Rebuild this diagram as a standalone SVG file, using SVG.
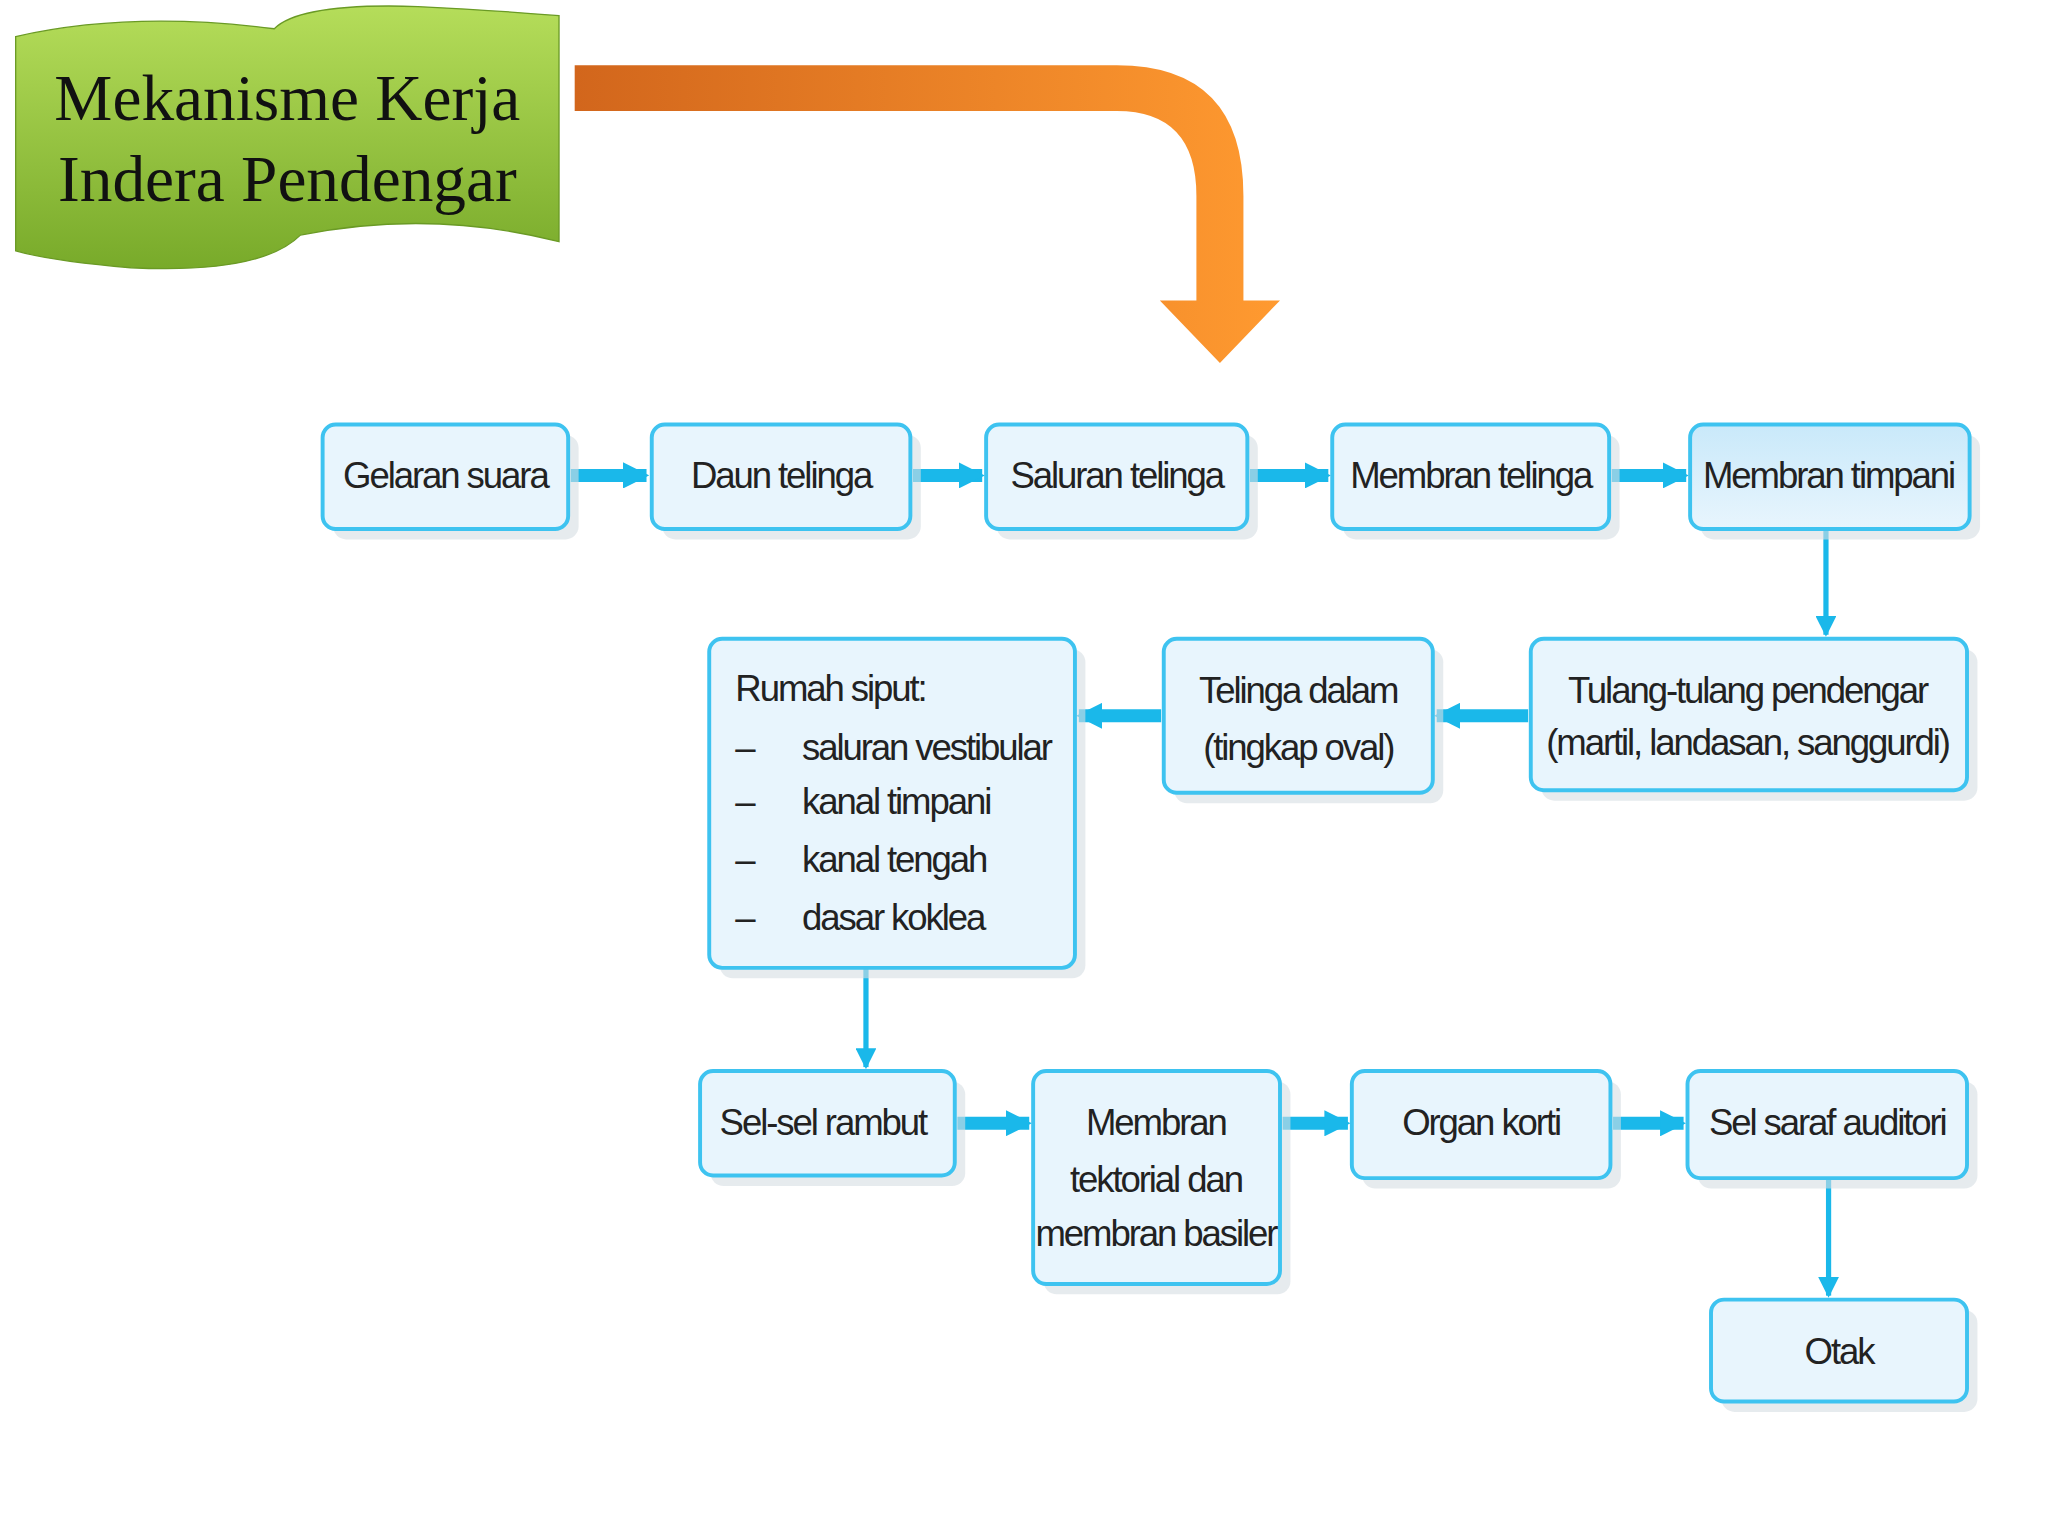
<svg xmlns="http://www.w3.org/2000/svg" width="2048" height="1536" viewBox="0 0 2048 1536">
<defs>
<style>
.b{fill:#e8f5fd;stroke:#3ec3f0;stroke-width:3}
.s{fill:#d6dde3;opacity:0.6}
.t{font-family:"Liberation Sans",Arial,sans-serif;font-size:28px;letter-spacing:-1.6px;fill:#222;text-anchor:middle}
.tl{font-family:"Liberation Sans",Arial,sans-serif;font-size:28px;letter-spacing:-1.6px;fill:#222}
.c{stroke:#1ab8ea;fill:none}
</style>
<linearGradient id="g" x1="0" y1="0" x2="0" y2="1"><stop offset="0" stop-color="#b5dd5a"/><stop offset="1" stop-color="#78aa2a"/></linearGradient>
<linearGradient id="o" x1="0" y1="0" x2="1" y2="0"><stop offset="0" stop-color="#d2661c"/><stop offset="1" stop-color="#ff9a30"/></linearGradient>
<linearGradient id="mt" x1="0" y1="0" x2="0" y2="1"><stop offset="0" stop-color="#c9e9fa"/><stop offset="1" stop-color="#e8f5fd"/></linearGradient>
<marker id="a" viewBox="0 0 10 10" refX="9" refY="5" markerWidth="2" markerHeight="2" orient="auto"><path d="M0,0L10,5L0,10z" fill="#1ab8ea"/></marker>
<marker id="a2" viewBox="0 0 10 10" refX="9" refY="5" markerWidth="4" markerHeight="4" orient="auto"><path d="M0,0L10,5L0,10z" fill="#1ab8ea"/></marker>
</defs>
<g transform="scale(1.30612)">
<g id="banner">
<path d="M12,28 Q100,8 210,22 Q230,2 320,5 Q380,8 428,12 L428,185 Q330,160 230,180 Q200,210 100,205 Q40,200 12,192 Z" fill="url(#g)" stroke="#6a9a25" stroke-width="1"/>
<text x="220" y="92" font-family="Liberation Serif,serif" font-size="50" text-anchor="middle" fill="#111">Mekanisme Kerja</text>
<text x="220" y="154" font-family="Liberation Serif,serif" font-size="50" text-anchor="middle" fill="#111">Indera Pendengar</text>
</g>
<g id="bigarrow">
<path d="M440,50 L855,50 Q952,50 952,150 L952,230 L980,230 L934,278 L888,230 L916,230 L916,150 Q916,85 855,85 L440,85 Z" fill="url(#o)"/>
</g>
<g id="connectors">
<g class="c" stroke-width="10" marker-end="url(#a)">
<line x1="437" y1="364" x2="495" y2="364"/>
<line x1="699" y1="364" x2="752" y2="364"/>
<line x1="957" y1="364" x2="1017" y2="364"/>
<line x1="1234" y1="364" x2="1291" y2="364"/>
<line x1="1170" y1="548" x2="1100" y2="548"/>
<line x1="889" y1="548" x2="826" y2="548"/>
<line x1="733" y1="860" x2="788" y2="860"/>
<line x1="982" y1="860" x2="1032" y2="860"/>
<line x1="1235" y1="860" x2="1289" y2="860"/>
</g>
<g class="c" stroke-width="4" marker-end="url(#a2)">
<line x1="1398" y1="405" x2="1398" y2="486"/>
<line x1="663" y1="741" x2="663" y2="817"/>
<line x1="1400" y1="902" x2="1400" y2="992"/>
</g>
</g>
<g id="n1"><rect class="s" x="255" y="333" width="188" height="80" rx="10"/><rect class="b" x="247" y="325" width="188" height="80" rx="10"/><text class="t" x="341" y="374">Gelaran suara</text></g>
<g id="n2"><rect class="s" x="507" y="333" width="198" height="80" rx="10"/><rect class="b" x="499" y="325" width="198" height="80" rx="10"/><text class="t" x="598" y="374">Daun telinga</text></g>
<g id="n3"><rect class="s" x="763" y="333" width="200" height="80" rx="10"/><rect class="b" x="755" y="325" width="200" height="80" rx="10"/><text class="t" x="855" y="374">Saluran telinga</text></g>
<g id="n4"><rect class="s" x="1028" y="333" width="212" height="80" rx="10"/><rect class="b" x="1020" y="325" width="212" height="80" rx="10"/><text class="t" x="1126" y="374">Membran telinga</text></g>
<g id="n5"><rect class="s" x="1302" y="333" width="214" height="80" rx="10"/><rect class="b" x="1294" y="325" width="214" height="80" rx="10" style="fill:url(#mt)"/><text class="t" x="1400" y="374">Membran timpani</text></g>
<g id="n6"><rect class="s" x="1180" y="497" width="334" height="116" rx="10"/><rect class="b" x="1172" y="489" width="334" height="116" rx="10"/><text class="t" x="1338" y="538">Tulang-tulang pendengar</text><text class="t" x="1338" y="578">(martil, landasan, sanggurdi)</text></g>
<g id="n7"><rect class="s" x="899" y="497" width="206" height="118" rx="10"/><rect class="b" x="891" y="489" width="206" height="118" rx="10"/><text class="t" x="994" y="538">Telinga dalam</text><text class="t" x="994" y="582">(tingkap oval)</text></g>
<g id="n8"><rect class="s" x="551" y="497" width="280" height="252" rx="10"/><rect class="b" x="543" y="489" width="280" height="252" rx="10"/>
<text class="tl" x="563" y="537">Rumah siput:</text>
<text class="tl" x="563" y="582">–</text><text class="tl" x="614" y="582">saluran vestibular</text>
<text class="tl" x="563" y="623">–</text><text class="tl" x="614" y="623">kanal timpani</text>
<text class="tl" x="563" y="668">–</text><text class="tl" x="614" y="668">kanal tengah</text>
<text class="tl" x="563" y="712">–</text><text class="tl" x="614" y="712">dasar koklea</text></g>
<g id="n9"><rect class="s" x="544" y="828" width="195" height="80" rx="10"/><rect class="b" x="536" y="820" width="195" height="80" rx="10"/><text class="t" x="630" y="869">Sel-sel rambut</text></g>
<g id="n10"><rect class="s" x="799" y="828" width="189" height="163" rx="10"/><rect class="b" x="791" y="820" width="189" height="163" rx="10"/><text class="t" x="885" y="869">Membran</text><text class="t" x="885" y="913">tektorial dan</text><text class="t" x="885" y="954">membran basiler</text></g>
<g id="n11"><rect class="s" x="1043" y="828" width="198" height="82" rx="10"/><rect class="b" x="1035" y="820" width="198" height="82" rx="10"/><text class="t" x="1134" y="869">Organ korti</text></g>
<g id="n12"><rect class="s" x="1300" y="828" width="214" height="82" rx="10"/><rect class="b" x="1292" y="820" width="214" height="82" rx="10"/><text class="t" x="1399" y="869">Sel saraf auditori</text></g>
<g id="n13"><rect class="s" x="1318" y="1003" width="196" height="78" rx="10"/><rect class="b" x="1310" y="995" width="196" height="78" rx="10"/><text class="t" x="1408" y="1044">Otak</text></g>
</g>
</svg>
